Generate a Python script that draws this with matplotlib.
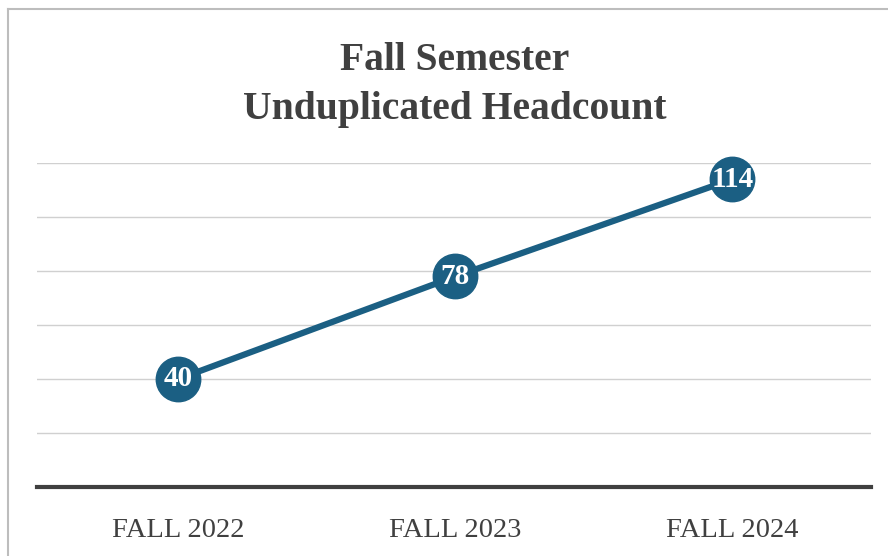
import matplotlib.pyplot as plt
from matplotlib.lines import Line2D

# Data
categories = ["FALL 2022", "FALL 2023", "FALL 2024"]
headcount = [40, 78, 114]

line_color = "#1b5f83"
text_color = "#404040"
serif = ["Liberation Serif", "DejaVu Serif"]

fig = plt.figure(figsize=(8.88, 5.56), dpi=100)
W, H = 888, 556
ax = fig.add_axes([37 / W, (H - 487) / H, (871 - 37) / W, (487 - 163) / H])

x = list(range(len(categories)))
ax.plot(x, headcount, color=line_color, lw=4.5, marker="o", ms=32,
        markerfacecolor=line_color, markeredgecolor=line_color, zorder=3,
        solid_capstyle="butt", clip_on=False)
for xi, v in zip(x, headcount):
    ax.text(xi, v, str(v), ha="center", va="center", color="white",
            fontsize=21, fontweight="bold", family=serif, zorder=4)

ax.set_xlim(-0.51, 2.5)
ax.set_ylim(0, 120)
ax.set_yticks(range(0, 121, 20))
ax.yaxis.grid(True, color="#d0d0d0", lw=1)
ax.set_axisbelow(True)
for s in ["top", "right", "left"]:
    ax.spines[s].set_visible(False)
ax.spines["bottom"].set_color("#404040")
ax.spines["bottom"].set_linewidth(3)
ax.tick_params(axis="y", length=0, labelleft=False)
ax.tick_params(axis="x", length=0, pad=22)
ax.set_xticks(x)
ax.set_xticklabels(categories, fontsize=20.5, color=text_color, family=serif)

fig.text(455 / W, 1 - 61 / H, "Fall Semester", ha="center", va="center",
         fontsize=28.5, fontweight="bold", color=text_color, family=serif)
fig.text(455 / W, 1 - 109 / H, "Unduplicated Headcount", ha="center", va="center",
         fontsize=28.5, fontweight="bold", color=text_color, family=serif)

# outer frame (top and left edges visible)
fig.add_artist(Line2D([8 / W, 1], [1 - 9 / H, 1 - 9 / H], color="#bdbdbd", lw=1.5,
                      transform=fig.transFigure))
fig.add_artist(Line2D([8 / W, 8 / W], [0, 1 - 9 / H], color="#bdbdbd", lw=1.5,
                      transform=fig.transFigure))

fig.savefig("out.png", dpi=100)
